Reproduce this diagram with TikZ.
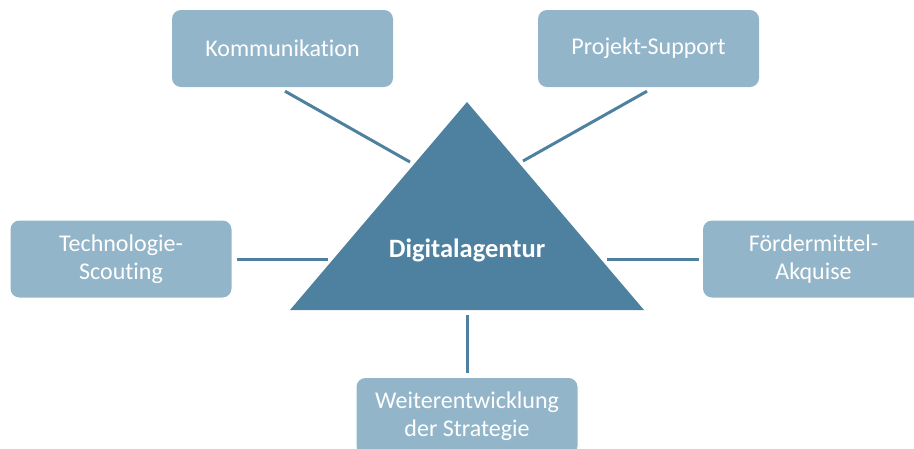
\documentclass[tikz,border=0pt]{standalone}
\usepackage{fontspec}
\setmainfont[Ligatures=NoCommon]{Carlito}
\usepackage{xcolor}
\definecolor{boxblue}{HTML}{93B5C9}
\definecolor{darkblue}{HTML}{4E81A0}

\begin{document}
\begin{tikzpicture}[x=1pt, y=-1pt,
  field/.style={rectangle, rounded corners=9pt, fill=boxblue, text=white,
    minimum width=221pt, minimum height=77pt, align=center,
    font=\fontsize{24}{28}\selectfont},
  link/.style={draw=darkblue, line width=3pt}]
  \useasboundingbox (0,0) rectangle (914,448);

  \fill[darkblue] (467,102) -- (290,310) -- (644,310) -- cycle;
  \node[text=white, font=\fontsize{26.5}{30}\selectfont\bfseries] (agentur) at (467,250) {Digitalagentur};

  \node[field] (komm) at (282.5,48.5) {Kommunikation};
  \node[field] (proj) at (648.5,48.5) {Projekt-Support};
  \node[field] (tech) at (121,259) {Technologie-\\Scouting};
  \node[field] (foerd) at (813.5,259) {Fördermittel-\\Akquise};
  \node[field] (weiter) at (467,416.5) {Weiterentwicklung\\der Strategie};

  \coordinate (kt) at (410,162);
  \coordinate (pt) at (523,161);
  \coordinate (tt) at (328,259);
  \coordinate (ft) at (607,259);
  \coordinate (wt) at (467,315);

  \draw[link] ([xshift=2.5pt,yshift=-4pt]komm.south) -- (kt);
  \draw[link] ([xshift=-1.5pt,yshift=-4pt]proj.south) -- (pt);
  \draw[link] ([xshift=5pt]tech.east) -- (tt);
  \draw[link] ([xshift=-4pt]foerd.west) -- (ft);
  \draw[link] ([yshift=5pt]weiter.north) -- (wt);
\end{tikzpicture}
\end{document}
